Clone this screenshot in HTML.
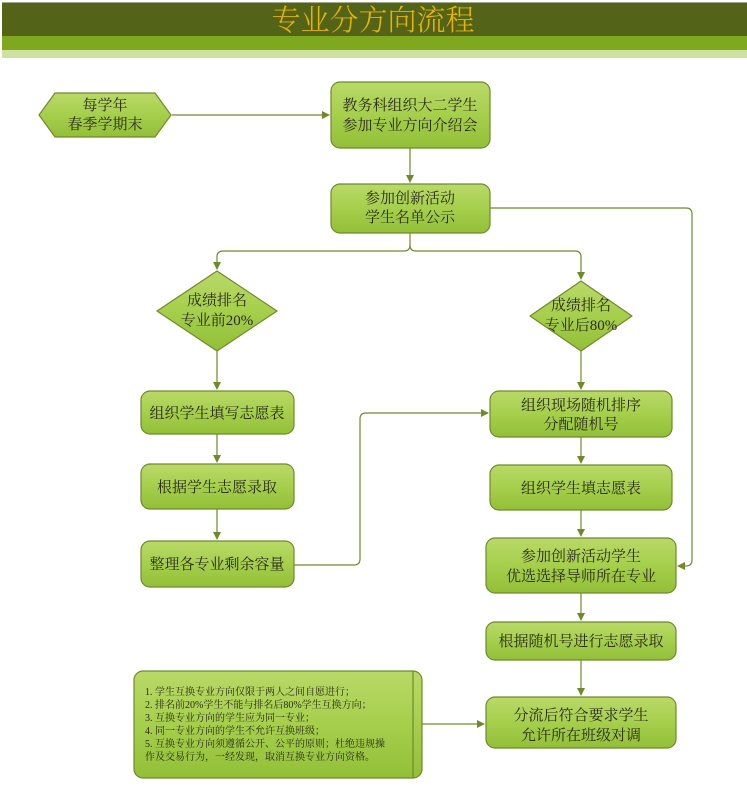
<!DOCTYPE html>
<html><head><meta charset="utf-8"><style>
body{margin:0;background:#fff;width:747px;height:781px;overflow:hidden}
svg text{font-family:"Liberation Serif","Noto Serif CJK SC",serif;fill:#2a2a1a}
</style></head><body>
<svg width="747" height="781" viewBox="0 0 747 781" xmlns="http://www.w3.org/2000/svg">
<defs>
<linearGradient id="g" x1="0" y1="0" x2="0" y2="1">
<stop offset="0" stop-color="#b9d968"/><stop offset="0.5" stop-color="#a6cf4c"/><stop offset="1" stop-color="#92bf38"/></linearGradient>
<marker id="a" markerWidth="8" markerHeight="8" refX="7" refY="4" orient="auto" markerUnits="userSpaceOnUse">
<path d="M0,0 L8,4 L0,8 z" fill="#6f8a2a"/></marker>
</defs>
<rect x="2" y="2" width="745" height="34" fill="#536419"/>
<rect x="2" y="36" width="745" height="14" fill="#7ea81e"/>
<rect x="2" y="50" width="745" height="8" fill="#cde2a0"/>
<rect x="2" y="2" width="745" height="1" fill="#a0a88a"/>
<text x="373" y="30" text-anchor="middle" font-size="29" style="fill:#e8b400;font-family:'Noto Serif CJK SC',serif;font-weight:300">专业分方向流程</text>

<g stroke="#6f8a2a" stroke-width="1.2" fill="none">
<path d="M172,115 H329" marker-end="url(#a)"/>
<path d="M410,148 V182" marker-end="url(#a)"/>
<path d="M410,233 V245 Q410,251 404,251 H223 Q217,251 217,257 V269" marker-end="url(#a)"/>
<path d="M410,245 Q410,251 416,251 H575 Q581,251 581,257 V279" marker-end="url(#a)"/>
<path d="M490,208 H686 Q692,208 692,214 V560 Q692,566 686,566 H678" marker-end="url(#a)"/>
<path d="M217,351 V389" marker-end="url(#a)"/>
<path d="M217,434 V462" marker-end="url(#a)"/>
<path d="M217,509 V539" marker-end="url(#a)"/>
<path d="M294,565 H354 Q360,565 360,559 V419 Q360,413 366,413 H488" marker-end="url(#a)"/>
<path d="M581,351 V389" marker-end="url(#a)"/>
<path d="M581,437 V463" marker-end="url(#a)"/>
<path d="M581,510 V536" marker-end="url(#a)"/>
<path d="M581,593 V620" marker-end="url(#a)"/>
<path d="M581,660 V695" marker-end="url(#a)"/>
<path d="M422,724 H484" marker-end="url(#a)"/>
</g>

<g stroke="#6f8a2a" stroke-width="1.2" fill="url(#g)">
<path d="M55,93 H155 L171,115 L155,137 H55 L39,115 Z"/>
<rect x="331" y="82" width="159" height="66" rx="9"/>
<rect x="331" y="184" width="159" height="49" rx="9"/>
<path d="M217,271 L277,311 L217,351 L157,311 Z" stroke-linejoin="round"/>
<path d="M581,281 L632,316 L581,351 L530,316 Z" stroke-linejoin="round"/>
<rect x="141" y="391" width="153" height="43" rx="9"/>
<rect x="141" y="464" width="153" height="45" rx="9"/>
<rect x="141" y="541" width="153" height="46" rx="9"/>
<rect x="490" y="391" width="182" height="46" rx="9"/>
<rect x="490" y="465" width="182" height="45" rx="9"/>
<rect x="486" y="538" width="190" height="55" rx="9"/>
<rect x="486" y="622" width="190" height="38" rx="9"/>
<rect x="486" y="697" width="190" height="51" rx="9"/>
<rect x="134" y="671" width="288" height="107" rx="9"/>
<path d="M413,671 V778" fill="none"/>
</g>

<g font-size="15" text-anchor="middle">
<text x="105" y="110">每学年</text><text x="105" y="129">春季学期末</text>
<text x="410" y="110">教务科组织大二学生</text><text x="410" y="130">参加专业方向介绍会</text>
<text x="410" y="203">参加创新活动</text><text x="410" y="222">学生名单公示</text>
<text x="217" y="305">成绩排名</text><text x="217" y="325">专业前20%</text>
<text x="581" y="310">成绩排名</text><text x="581" y="330">专业后80%</text>
<text x="217" y="418">组织学生填写志愿表</text>
<text x="217" y="492">根据学生志愿录取</text>
<text x="217" y="569">整理各专业剩余容量</text>
<text x="581" y="410">组织现场随机排序</text><text x="581" y="429">分配随机号</text>
<text x="581" y="493">组织学生填志愿表</text>
<text x="581" y="561">参加创新活动学生</text><text x="581" y="581">优选选择导师所在专业</text>
<text x="581" y="646">根据随机号进行志愿录取</text>
<text x="581" y="720">分流后符合要求学生</text><text x="581" y="740">允许所在班级对调</text>
</g>
<g font-size="10">
<text x="145" y="695">1. 学生互换专业方向仅限于两人之间自愿进行；</text>
<text x="145" y="708">2. 排名前20%学生不能与排名后80%学生互换方向；</text>
<text x="145" y="721">3. 互换专业方向的学生应为同一专业；</text>
<text x="145" y="734">4. 同一专业方向的学生不允许互换班级；</text>
<text x="145" y="747">5. 互换专业方向须遵循公开、公平的原则；杜绝违规操</text>
<text x="145" y="760">作及交易行为，一经发现，取消互换专业方向资格。</text>
</g>
</svg>
</body></html>
